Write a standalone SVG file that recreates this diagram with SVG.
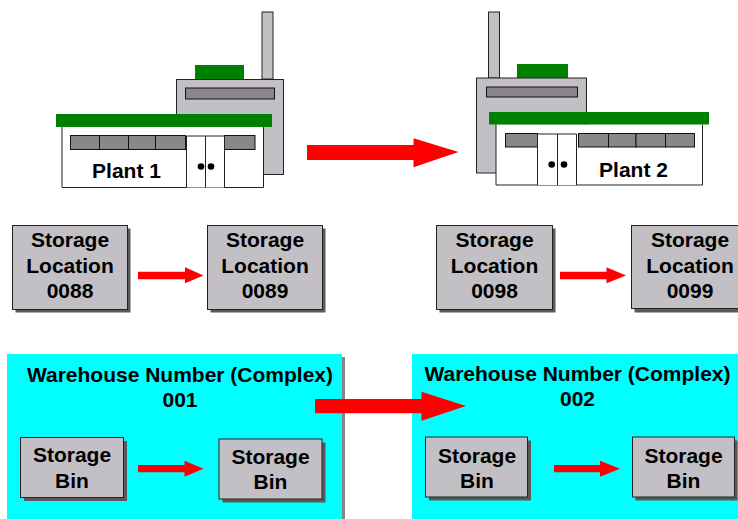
<svg xmlns="http://www.w3.org/2000/svg" width="738" height="519" viewBox="0 0 738 519">
  <defs>
    <style>
      .lbl { font-family: "Liberation Sans", Arial, sans-serif; font-weight: bold; font-size: 21px; fill: #000; text-anchor: middle; }
      .box { fill: #C2C0C4; stroke: #222; stroke-width: 1; }
      .shadow { fill: #5a5a5a; }
      .wh { fill: #00FFFF; }
      .whshadow { fill: #858585; }
      .roof { fill: #008000; }
      .wall { fill: #C2C0C4; stroke: #222; stroke-width: 1; }
      .front { fill: #FFFFFF; stroke: #222; stroke-width: 1; }
      .win { fill: #8A868A; stroke: #111; stroke-width: 1; }
      .door { fill: #FFFFFF; stroke: #222; stroke-width: 1; }
      .knob { fill: #000; }
      .arrow { fill: #FF0000; }
    </style>
  </defs>

  <rect width="738" height="519" fill="#FFFFFF"/>

  <!-- Plant 1 -->
  <g id="plant1">
    <rect class="wall" x="262" y="12" width="11" height="67"/>
    <rect class="roof" x="195" y="65" width="49" height="14"/>
    <rect class="wall" x="176.5" y="79.5" width="107" height="95"/>
    <rect class="win" x="185.5" y="88" width="89" height="11"/>
    <path class="front" d="M62,127 V187.5 H263.5 V127"/>
    <rect class="roof" x="56" y="114" width="216" height="13"/>
    <rect class="win" x="70.5" y="135.5" width="29" height="14"/>
    <rect class="win" x="99.5" y="135.5" width="29" height="14"/>
    <rect class="win" x="128.5" y="135.5" width="27" height="14"/>
    <rect class="win" x="155.5" y="135.5" width="30" height="14"/>
    <rect class="win" x="224.5" y="135.5" width="30.5" height="14"/>
    <path class="door" d="M186.5,187.5 V136 H224.5 V187.5 M205.5,136 V187.5"/>
    <circle class="knob" cx="201" cy="166.5" r="3.3"/>
    <circle class="knob" cx="211" cy="166.5" r="3.3"/>
    <text class="lbl" x="126.5" y="178">Plant 1</text>
  </g>

  <!-- Plant 2 -->
  <g id="plant2">
    <rect class="wall" x="488.5" y="12" width="11" height="66"/>
    <rect class="roof" x="517" y="64" width="51" height="14"/>
    <rect class="wall" x="476.5" y="78" width="110" height="95"/>
    <rect class="win" x="486.5" y="87" width="91" height="10"/>
    <path class="front" d="M496,124.5 V185 H702.5 V124.5"/>
    <rect class="roof" x="489" y="112" width="220" height="12.5"/>
    <rect class="win" x="505.5" y="133.5" width="32" height="13.5"/>
    <rect class="win" x="578.5" y="133.5" width="30" height="13.5"/>
    <rect class="win" x="608.5" y="133.5" width="27.5" height="13.5"/>
    <rect class="win" x="636" y="133.5" width="29.5" height="13.5"/>
    <rect class="win" x="665.5" y="133.5" width="29" height="13.5"/>
    <path class="door" d="M537.5,185 V134 H576.5 V185 M557.5,134 V185"/>
    <circle class="knob" cx="551.7" cy="164.5" r="3.3"/>
    <circle class="knob" cx="564" cy="164.5" r="3.3"/>
    <text class="lbl" x="633.5" y="176.5">Plant 2</text>
  </g>

  <!-- Warehouse number 001 -->
  <g id="warehouse001">
    <rect class="whshadow" x="10" y="357" width="335" height="162"/>
    <rect class="wh" x="7" y="354" width="335" height="165"/>
    <text class="lbl" x="180" y="381.5">Warehouse Number (Complex)</text>
    <text class="lbl" x="180" y="406.5">001</text>
  </g>

  <!-- Warehouse number 002 -->
  <g id="warehouse002">
    <rect class="wh" x="412" y="354" width="326" height="165"/>
    <text class="lbl" x="577.5" y="380.5">Warehouse Number (Complex)</text>
    <text class="lbl" x="577.5" y="405.5">002</text>
  </g>

  <!-- Storage locations -->
  <g id="sloc0088">
    <rect class="shadow" x="15.5" y="228.5" width="115" height="84"/>
    <rect class="box" x="12.5" y="225.5" width="115" height="84"/>
    <text class="lbl" x="70" y="247">Storage</text>
    <text class="lbl" x="70" y="272.5">Location</text>
    <text class="lbl" x="70" y="298">0088</text>
  </g>
  <g id="sloc0089">
    <rect class="shadow" x="210.5" y="228.5" width="115" height="84"/>
    <rect class="box" x="207.5" y="225.5" width="115" height="84"/>
    <text class="lbl" x="265" y="247">Storage</text>
    <text class="lbl" x="265" y="272.5">Location</text>
    <text class="lbl" x="265" y="298">0089</text>
  </g>
  <g id="sloc0098">
    <rect class="shadow" x="439.5" y="228.5" width="116" height="84"/>
    <rect class="box" x="436.5" y="225.5" width="116" height="84"/>
    <text class="lbl" x="494.5" y="247">Storage</text>
    <text class="lbl" x="494.5" y="272.5">Location</text>
    <text class="lbl" x="494.5" y="298">0098</text>
  </g>
  <g id="sloc0099">
    <rect class="shadow" x="634.5" y="228.5" width="115" height="84"/>
    <rect class="box" x="631.5" y="225.5" width="115" height="83"/>
    <text class="lbl" x="690" y="247">Storage</text>
    <text class="lbl" x="690" y="272.5">Location</text>
    <text class="lbl" x="690" y="298">0099</text>
  </g>

  <!-- Storage bins -->
  <g id="bin1">
    <rect class="shadow" x="24" y="441" width="103" height="60"/>
    <rect class="box" x="20.5" y="437.5" width="103" height="60"/>
    <text class="lbl" x="72" y="462">Storage</text>
    <text class="lbl" x="72" y="488">Bin</text>
  </g>
  <g id="bin2">
    <rect class="shadow" x="222.5" y="442.5" width="103" height="60"/>
    <rect class="box" x="219" y="439" width="103" height="60"/>
    <text class="lbl" x="270.5" y="463.5">Storage</text>
    <text class="lbl" x="270.5" y="488.5">Bin</text>
  </g>
  <g id="bin3">
    <rect class="shadow" x="429" y="440.5" width="102" height="60"/>
    <rect class="box" x="425.5" y="437" width="102" height="60"/>
    <text class="lbl" x="477" y="462.5">Storage</text>
    <text class="lbl" x="477" y="488">Bin</text>
  </g>
  <g id="bin4">
    <rect class="shadow" x="635.5" y="440.5" width="102" height="60"/>
    <rect class="box" x="632.5" y="437" width="102" height="60"/>
    <text class="lbl" x="683.5" y="462.5">Storage</text>
    <text class="lbl" x="683.5" y="488">Bin</text>
  </g>

  <!-- Connectors -->
  <g id="connectors">
    <!-- plant to plant -->
    <polygon class="arrow" points="307,145 413.5,145 413.5,138.3 458.5,152 413.5,167.3 413.5,160 307,160"/>
    <!-- warehouse to warehouse -->
    <polygon class="arrow" points="315,399 421.5,399 421.5,391.7 466,406 421.5,420.7 421.5,413.3 315,413.3"/>
    <!-- storage location transfers -->
    <polygon class="arrow" points="138,271.7 185,271.7 185,267.3 203.5,275.5 185,283.3 185,279.3 138,279.3"/>
    <polygon class="arrow" points="560,271.7 606.5,271.7 606.5,267.3 626,275.5 606.5,283.3 606.5,279.3 560,279.3"/>
    <!-- storage bin transfers -->
    <polygon class="arrow" points="138,465 184.5,465 184.5,460.7 203.5,468.7 184.5,476.7 184.5,472.3 138,472.3"/>
    <polygon class="arrow" points="554,465 600,465 600,460.7 620,468.7 600,476.7 600,472.3 554,472.3"/>
  </g>
</svg>
